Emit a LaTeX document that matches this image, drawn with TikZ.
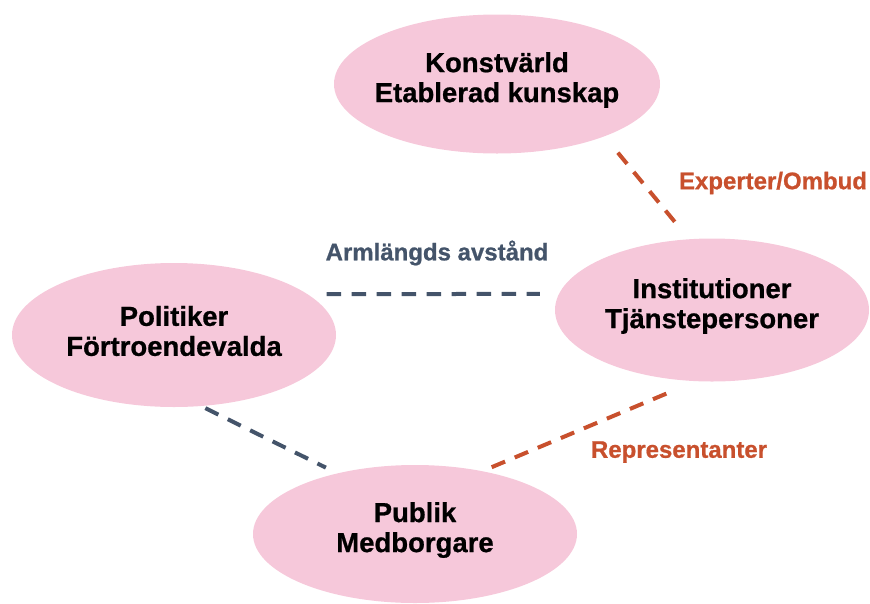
\documentclass[tikz,border=0pt]{standalone}
\usepackage{fontspec}
\setmainfont{Liberation Sans}[BoldFeatures = {FakeBold = 0.8}]
\usetikzlibrary{shapes.geometric}

\definecolor{bubblepink}{HTML}{F6C8DA}
\definecolor{rust}{HTML}{C8502D}
\definecolor{slate}{HTML}{44546A}

\begin{document}
\begin{tikzpicture}[x = 1pt, y = -1pt]
        \useasboundingbox (0, 0) rectangle (870, 603);

        \begin{scope}[%
            every node/.style = {%
                ellipse,
                fill = bubblepink,
                inner sep = 0pt
            },
            every label/.style = {%
                fill = none,
                align = center,
                yshift = 4pt,
                font = \fontsize{27.5}{30}\selectfont\bfseries
            }
        ]

            % Bubbles (groups) of the diagram.
            \node[minimum width = 326pt, minimum height = 139pt,
                label = center:{Konstvärld\\Etablerad kunskap}] (konst) at (497, 84) {};
            \node[minimum width = 314pt, minimum height = 143pt,
                label = center:{Institutioner\\Tjänstepersoner}] (inst) at (712, 310) {};
            \node[minimum width = 324pt, minimum height = 144pt,
                label = center:{Politiker\\Förtroendevalda}] (pol) at (174, 335) {};
            \node[minimum width = 324pt, minimum height = 138pt,
                label = center:{Publik\\Medborgare}] (publik) at (415, 534) {};
        \end{scope}

        \begin{scope}[%
            every node/.style = {%
                font = \fontsize{24}{28}\selectfont\bfseries
            },
            every edge/.style = {%
                draw,
                line width = 4pt,
                dash pattern = on 14.5pt off 10.5pt
            }
        ]

            % Links between the bubbles.
            \path (konst.-26.3) edge[draw = rust, shorten <= 21pt, shorten >= 21pt] (inst.108.4);
            \path (pol.17.1) edge[draw = slate, shorten <= 19pt, shorten >= 19pt] (inst.174.0);
            \path (pol.-69.2) edge[draw = slate, shorten <= 4.5pt, shorten >= 12.7pt] (publik.142.5);
            \path (publik.43.8) edge[draw = rust, shorten <= 10pt, shorten >= 30.8pt] (inst.-103.9);

            % Labels of the links.
            \node[text = rust] (expertlabel) at (773, 183) {Experter/Ombud};
            \node[text = slate] (armlabel) at (437, 253) {Armlängds avstånd};
            \node[text = rust] (replabel) at (679, 452) {Representanter};
        \end{scope}
    \end{tikzpicture}
\end{document}
